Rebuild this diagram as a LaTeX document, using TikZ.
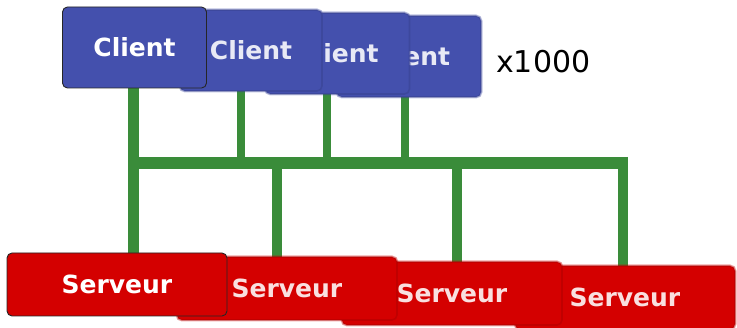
\documentclass[tikz,border=0pt]{standalone}
\usepackage{fontspec}
\setmainfont{DejaVu Sans}
\usetikzlibrary{backgrounds}
\definecolor{clientblue}{RGB}{68,80,173}
\definecolor{serverred}{RGB}{212,0,0}
\definecolor{wiregreen}{RGB}{58,140,58}
\tikzset{
  box/.style={rounded corners=5pt, inner sep=0pt, text=white,
    font=\bfseries\fontsize{25}{29}\selectfont},
  clientbox/.style={box, fill=clientblue, minimum width=144pt, minimum height=81pt},
  serverbox/.style={box, fill=serverred, minimum width=220pt, minimum height=63pt},
  frontbox/.style={draw=black!85, line width=0.9pt},
  % soft-edged boxes in the background
  softbox/.style={
    preaction={draw=#1, line width=3pt, draw opacity=0.35},
    postaction={draw=#1!70!black, line width=1.6pt, draw opacity=0.3},
    text opacity=0.88},
  wire/.style={draw=wiregreen, line width=#1},
}
\begin{document}
\begin{tikzpicture}[x=1pt, y=-1pt]
\useasboundingbox (0,0) rectangle (737,328);

% clients, back to front
\node[clientbox, softbox=clientblue] (c4) at (409,56.5) {Client};
\node[clientbox, softbox=clientblue] (c3) at (337.5,53.5) {Client};
\node[clientbox, softbox=clientblue, minimum width=142pt] (c2) at (251,50.5) {Client};
\node[clientbox, frontbox] (c1) at (134.5,47.5) {Client};

% servers, back to front
\node[serverbox, softbox=serverred] (s4) at (625,297.5) {Serveur};
\node[serverbox, softbox=serverred] (s3) at (452,293.5) {Serveur};
\node[serverbox, softbox=serverred] (s2) at (287,288.5) {Serveur};
\node[serverbox, frontbox] (s1) at (117,284.5) {Serveur};

\node[anchor=base west, inner sep=0pt, font=\fontsize{30}{36}\selectfont] (mult) at (496,73) {x1000};

% bus junctions
\coordinate (busL) at (133.5,163);
\coordinate (busEnd) at (628,163);
\coordinate (busR) at (623,157);
\coordinate (j2) at (241,163);
\coordinate (j3) at (327,163);
\coordinate (j4) at (405,163);
\coordinate (k2) at (276.7,163);
\coordinate (k3) at (456.7,163);

% wires, behind every box
\begin{scope}[on background layer]
\draw[wire=11.7pt] (busL |- c1.south) -- (busL |- s1.north);
\draw[wire=8pt] (j2 |- c2.south) -- (j2);
\draw[wire=8pt] (j3 |- c3.south) -- (j3);
\draw[wire=8.6pt] (j4 |- c4.south) -- (j4);
\draw[wire=10pt] (k2) -- (k2 |- s2.north);
\draw[wire=10pt] (k3) -- (k3 |- s3.north);
\draw[wire=10pt] (busR) -- (busR |- s4.north);
\draw[wire=12pt] (busL) -- (busEnd);
\end{scope}
\end{tikzpicture}
\end{document}
